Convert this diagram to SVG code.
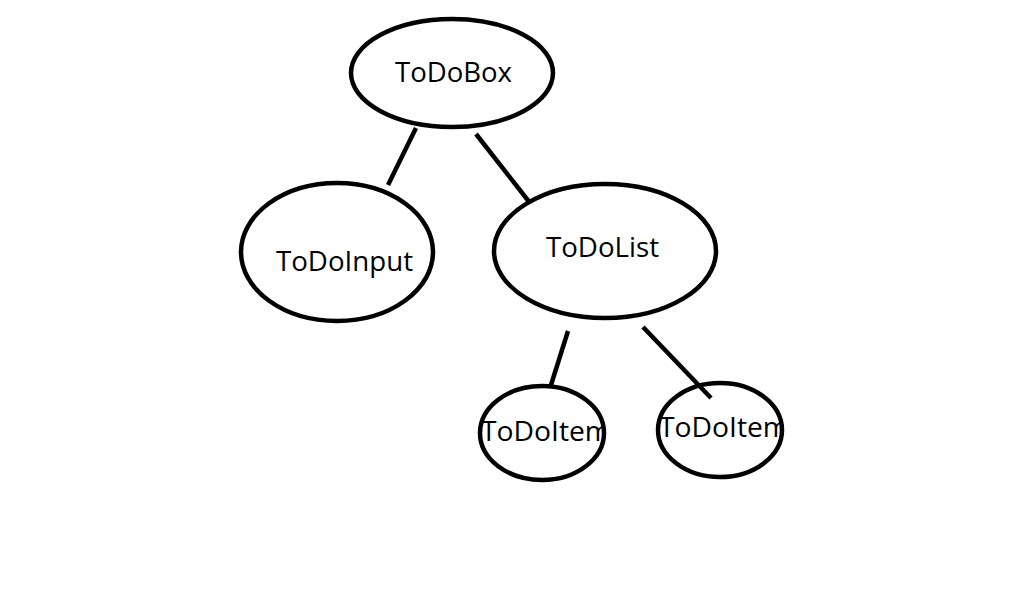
<svg xmlns="http://www.w3.org/2000/svg" width="1018" height="607" viewBox="0 0 1018 607">
<style>
.node ellipse{fill:none;stroke:#000;stroke-width:4.5}
.node text{font-family:"Open Sans","Noto Sans","Liberation Sans",sans-serif;font-size:28px;fill:#000}
.edges line{stroke:#000;stroke-width:4.5}
</style>
<defs>
<clipPath id="c1"><ellipse cx="542" cy="433" rx="62" ry="47"/></clipPath>
<clipPath id="c2"><ellipse cx="720" cy="430" rx="62" ry="47"/></clipPath>
</defs>
<rect width="1018" height="607" fill="#fff"/>
<g class="edges">
<line x1="416" y1="128" x2="388" y2="185"/>
<line x1="476" y1="134" x2="530" y2="203"/>
<line x1="568" y1="331" x2="551" y2="385"/>
<line x1="643" y1="327" x2="711" y2="398"/>
</g>
<g id="todobox" class="node">
<ellipse cx="452" cy="73" rx="101" ry="54"/>
<text x="395" y="82" textLength="117" lengthAdjust="spacingAndGlyphs">ToDoBox</text>
</g>
<g id="todoinput" class="node">
<ellipse cx="337" cy="252" rx="96" ry="69"/>
<text x="276" y="271" textLength="137" lengthAdjust="spacingAndGlyphs">ToDoInput</text>
</g>
<g id="todolist" class="node">
<ellipse cx="605" cy="251" rx="111" ry="67"/>
<text x="546" y="257" textLength="113" lengthAdjust="spacingAndGlyphs">ToDoList</text>
</g>
<g id="todoitem1" class="node">
<text x="481" y="441" textLength="130" lengthAdjust="spacingAndGlyphs" clip-path="url(#c1)">ToDoItem</text>
<ellipse cx="542" cy="433" rx="62" ry="47"/>
</g>
<g id="todoitem2" class="node">
<text x="659" y="437" textLength="130" lengthAdjust="spacingAndGlyphs" clip-path="url(#c2)">ToDoItem</text>
<ellipse cx="720" cy="430" rx="62" ry="47"/>
</g>
</svg>
